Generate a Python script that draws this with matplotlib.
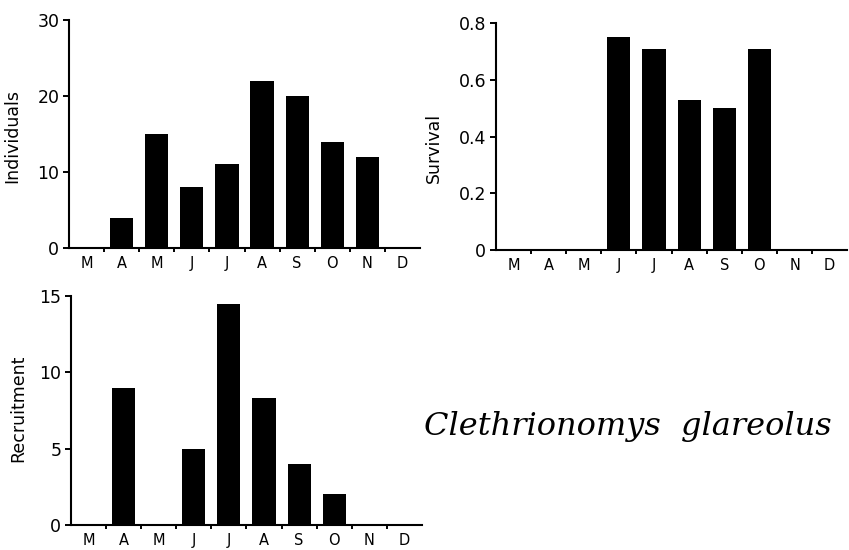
import numpy as np
import matplotlib
matplotlib.use("Agg")
import matplotlib.pyplot as plt

months = ["M", "A", "M", "J", "J", "A", "S", "O", "N", "D"]
individuals = [0, 4, 15, 8, 11, 22, 20, 14, 12, 0]
survival = [0, 0, 0, 0.75, 0.71, 0.53, 0.50, 0.71, 0, 0]
recruitment = [0, 9, 0, 5, 14.5, 8.3, 4, 2, 0, 0]

fig = plt.figure(figsize=(8.49, 5.5), dpi=100)


def style_panel(ax, values, yticks, ylabels, ylabel, label_xy):
    x = np.arange(len(months))
    ax.bar(x, values, width=0.66, color="black", zorder=1)
    ax.set_xlim(-0.5, len(months) - 0.5)
    ax.set_ylim(0, yticks[-1])
    ax.spines["top"].set_visible(False)
    ax.spines["right"].set_visible(False)
    for s in ("left", "bottom"):
        ax.spines[s].set_linewidth(1.5)
        ax.spines[s].set_zorder(3)
    ax.set_xticks(x)
    ax.set_xticklabels(months)
    ax.set_xticks(np.arange(0.5, len(months) - 1, 1.0), minor=True)
    ax.tick_params(axis="x", which="major", length=0, pad=6, labelsize=10.5)
    ax.tick_params(axis="x", which="minor", length=3, width=1.4, direction="out")
    ax.set_yticks(yticks)
    ax.set_yticklabels(ylabels)
    ax.tick_params(axis="y", length=4, width=1.4, pad=3, labelsize=12.5)
    ax.set_ylabel(ylabel, fontsize=12.5)
    ax.yaxis.set_label_coords(*label_xy)


ax1 = fig.add_axes([0.0813, 0.549, 0.4134, 0.4146])
style_panel(ax1, individuals, [0, 10, 20, 30], ["0", "10", "20", "30"],
            "Individuals", (-0.135, 0.49))

ax2 = fig.add_axes([0.584, 0.5455, 0.414, 0.4125])
style_panel(ax2, survival, [0, 0.2, 0.4, 0.6, 0.8], ["0", "0.2", "0.4", "0.6", "0.8"],
            "Survival", (-0.15, 0.45))

ax3 = fig.add_axes([0.0836, 0.0455, 0.4134, 0.4163])
style_panel(ax3, recruitment, [0, 5, 10, 15], ["0", "5", "10", "15"],
            "Recruitment", (-0.125, 0.51))

fig.text(0.74, 0.224, "Clethrionomys  glareolus", fontsize=23,
         family="DejaVu Serif", style="italic", ha="center", va="center")

fig.savefig("out.png", dpi=100)
